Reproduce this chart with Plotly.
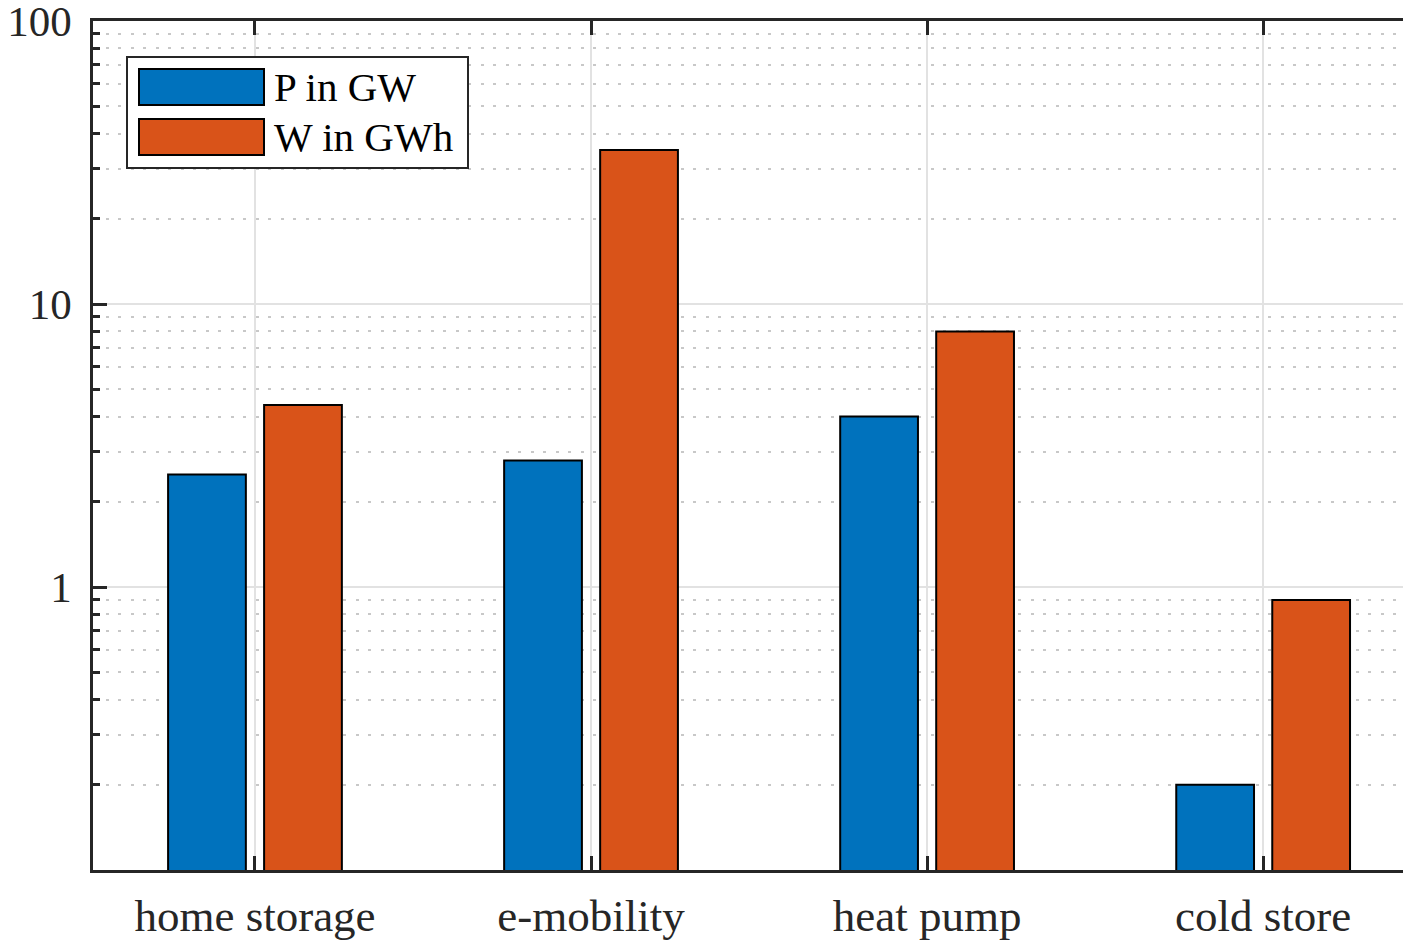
import plotly.graph_objects as go

categories = ["home storage", "e-mobility", "heat pump", "cold store"]
p_gw = [2.5, 2.8, 4.0, 0.2]
w_gwh = [4.4, 35, 8.0, 0.9]
series_names = ["P in GW", "W in GWh"]
colors = ["#0072BD", "#D95319"]
ytick_vals = [1, 10, 100]
ytick_text = ["1", "10", "100"]
minor_vals = [m * 10 ** e for e in (-1, 0, 1) for m in range(2, 10)]

OFF = 8  # default body margin of the page
W, H = 1411 - OFF, 940 - OFF
ML, MR, MT, MB = 93 - OFF, 0, 21 - OFF, 70
PW, PH = W - ML - MR, H - MT - MB

def px_x(x):
    return (x - OFF - ML) / PW

def px_y(y):
    return (H - MB - (y - OFF)) / PH

FONT = "Liberation Serif"
AX = "#262626"

fig = go.Figure()
for name, vals, col in zip(series_names, [p_gw, w_gwh], colors):
    fig.add_trace(go.Bar(x=categories, y=vals, name=name, marker_color=col,
                         marker_line_color="#000000", marker_line_width=2,
                         showlegend=False))

fig.update_layout(
    width=W, height=H,
    margin=dict(l=ML, r=MR, t=MT, b=MB, pad=0, autoexpand=False),
    paper_bgcolor="white", plot_bgcolor="white",
    barmode="group", bargap=0.4286, bargroupgap=0.19,
    font=dict(family=FONT, size=44, color=AX),
)
fig.update_xaxes(
    automargin=False,
    range=[-0.482, 3.44], showline=True, linecolor=AX, linewidth=2.5,
    mirror="ticks", ticks="inside", ticklen=14, tickwidth=2.5, tickcolor=AX,
    showgrid=True, gridcolor="#e2e2e2", gridwidth=2,
    tickfont=dict(family=FONT, size=45, color=AX), ticklabelstandoff=4,
    ticklabeloverflow="allow",
)
fig.update_yaxes(
    automargin=False,
    type="log", range=[-1, 2], tickmode="array", tickvals=ytick_vals, ticktext=ytick_text,
    showline=True, linecolor=AX, linewidth=2.5,
    ticks="inside", ticklen=14, tickwidth=2.5, tickcolor=AX,
    showgrid=True, gridcolor="#e2e2e2", gridwidth=2,
    tickfont=dict(family=FONT, size=43, color=AX), ticklabelstandoff=10,
    ticklabeloverflow="allow",
    minor=dict(tickmode="array", tickvals=minor_vals, ticks="inside", ticklen=7,
               tickwidth=2.5, tickcolor=AX, showgrid=True, gridcolor="#c8c8c8",
               gridwidth=2, griddash="3px,9.5px"),
    zeroline=False,
)

# custom legend with wide swatches (as in the reference)
fig.add_shape(type="rect", xref="paper", yref="paper",
              x0=px_x(127), x1=px_x(468), y0=px_y(168), y1=px_y(57),
              line=dict(color=AX, width=2), fillcolor="white", layer="above")
for i, (name, col) in enumerate(zip(series_names, colors)):
    top = 69 + 50 * i
    fig.add_shape(type="rect", xref="paper", yref="paper",
                  x0=px_x(139), x1=px_x(264), y0=px_y(top + 36), y1=px_y(top),
                  line=dict(color="#000000", width=2), fillcolor=col, layer="above")
    fig.add_annotation(xref="paper", yref="paper", x=px_x(272), y=px_y(top + 18),
                       text=name, showarrow=False, xanchor="left", yanchor="middle",
                       font=dict(family=FONT, size=41, color="#000000"))

fig.write_html("out.html")
